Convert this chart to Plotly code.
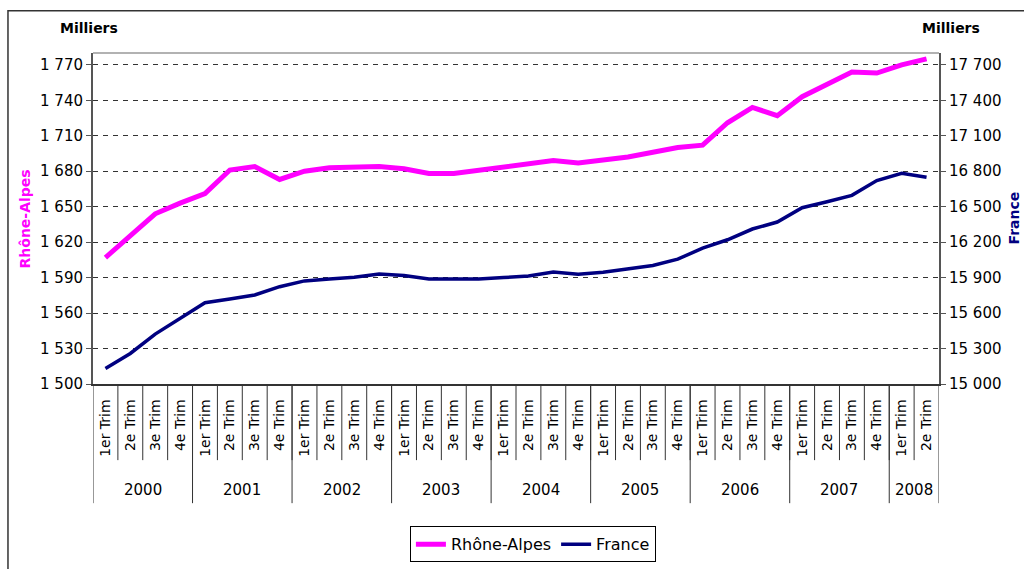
import plotly.graph_objects as go

years = ["2000", "2001", "2002", "2003", "2004", "2005", "2006", "2007", "2008"]
quarters_per_year = [4, 4, 4, 4, 4, 4, 4, 4, 2]
quarter_names = ["1er Trim", "2e Trim", "3e Trim", "4e Trim"]

rhone_alpes = [1607, 1625, 1644, 1653, 1661, 1681, 1684, 1673, 1680, 1683,
               1684, 1684, 1682, 1678, 1678, 1681, 1683, 1686, 1689, 1687,
               1689, 1692, 1696, 1700, 1702, 1721, 1734, 1727, 1743, 1754,
               1764, 1763, 1770, 1775]
france = [15131, 15258, 15422, 15555, 15688, 15719, 15753, 15823, 15872, 15889,
          15903, 15931, 15917, 15889, 15889, 15889, 15900, 15914, 15948, 15929,
          15946, 15971, 16002, 16056, 16149, 16220, 16311, 16370, 16491, 16542,
          16596, 16721, 16783, 16749]

left_ticks = [1500, 1530, 1560, 1590, 1620, 1650, 1680, 1710, 1740, 1770]
right_ticks = [15000, 15300, 15600, 15900, 16200, 16500, 16800, 17100, 17400, 17700]

# build category labels
qlabels = []
for n in quarters_per_year:
    qlabels += quarter_names[:n]
idx = list(range(len(qlabels)))

FONT = "DejaVu Sans"
PINK = "#FF00FF"
NAVY = "#000080"

fig = go.Figure()
fig.add_trace(go.Scatter(x=idx, y=rhone_alpes, name="Rhône-Alpes", mode="lines",
                         line=dict(color=PINK, width=5)))
fig.add_trace(go.Scatter(x=idx, y=france, name="France", mode="lines",
                         line=dict(color=NAVY, width=3.5), yaxis="y2"))

shapes = []
# quarter dividers
for i in range(len(idx) - 1):
    shapes.append(dict(type="line", xref="x", yref="paper", x0=i + 0.5, x1=i + 0.5,
                       y0=0, y1=-0.23, line=dict(color="#333333", width=1)))
# year dividers and labels
annotations = []
start = 0
bounds = [-0.5]
for y, n in zip(years, quarters_per_year):
    annotations.append(dict(x=start + (n - 1) / 2, y=-0.32, xref="x", yref="paper",
                            xanchor="center", yanchor="middle",
                            text=y, showarrow=False, font=dict(size=15, color="black", family=FONT)))
    start += n
    bounds.append(start - 0.5)
for b in bounds:
    shapes.append(dict(type="line", xref="x", yref="paper", x0=b, x1=b,
                       y0=0, y1=-0.36, line=dict(color="#333333", width=1)))
# top border of plot area
shapes.append(dict(type="line", xref="paper", yref="paper", x0=0, x1=1, y0=1, y1=1,
                   line=dict(color="#999999", width=1.5)))
# outer chart border
shapes.append(dict(type="rect", xref="paper", yref="paper", x0=-0.1005, x1=1.12,
                   y0=-0.6, y1=1.128, line=dict(color="#333333", width=1.5)))

annotations += [
    dict(x=-0.005, y=1.0755, xref="paper", yref="paper", text="<b>Milliers</b>", showarrow=False,
         xanchor="center", yanchor="middle", font=dict(size=14, color="black", family=FONT)),
    dict(x=1.0145, y=1.0755, xref="paper", yref="paper", text="<b>Milliers</b>", showarrow=False,
         xanchor="center", yanchor="middle", font=dict(size=14, color="black", family=FONT)),
    dict(x=-0.0804, y=0.5, xref="paper", yref="paper", text="<b>Rhône-Alpes</b>", showarrow=False,
         xanchor="center", yanchor="middle",
         textangle=-90, font=dict(size=14, color=PINK, family=FONT)),
    dict(x=1.0875, y=0.5, xref="paper", yref="paper", text="<b>France</b>", showarrow=False,
         xanchor="center", yanchor="middle",
         textangle=-90, font=dict(size=14, color=NAVY, family=FONT)),
]

fig.update_layout(
    width=1024, height=569,
    margin=dict(l=93, r=85, t=53, b=185, autoexpand=False),
    paper_bgcolor="white", plot_bgcolor="white",
    separators=", ",
    font=dict(family=FONT, size=14, color="black"),
    showlegend=True,
    legend=dict(orientation="h", x=0.52, xanchor="center", y=-0.43, yanchor="top",
                bordercolor="black", borderwidth=1, font=dict(size=16, family=FONT),
                bgcolor="white"),
    xaxis=dict(range=[-0.5, len(idx) - 0.5], tickmode="array", tickvals=idx, ticktext=qlabels,
               tickangle=-90, ticks="", showgrid=False, showline=True, linecolor="#333333",
               linewidth=1.5, zeroline=False, tickfont=dict(size=14, family=FONT),
               ticklabelstandoff=8, automargin=False),
    yaxis=dict(range=[1500, 1780], tickmode="array", tickvals=left_ticks, tickformat=",d",
               showgrid=True, gridcolor="#333333", griddash="5px,5px", gridwidth=1,
               showline=True, linecolor="#555555", linewidth=2, ticks="outside", ticklen=5,
               tickcolor="#555555", zeroline=False, tickfont=dict(size=15, family=FONT),
               automargin=False),
    yaxis2=dict(range=[15000, 17800], tickmode="array", tickvals=right_ticks, tickformat=",d",
                overlaying="y", side="right", showgrid=False, showline=True, linecolor="#555555",
                linewidth=2, ticks="outside", ticklen=5, tickcolor="#555555", zeroline=False,
                tickfont=dict(size=15, family=FONT), automargin=False),
    shapes=shapes,
    annotations=annotations,
)

fig.write_html("out.html", config={"displayModeBar": False},
               post_script="document.body.style.margin='0';document.body.style.overflow='hidden';")
